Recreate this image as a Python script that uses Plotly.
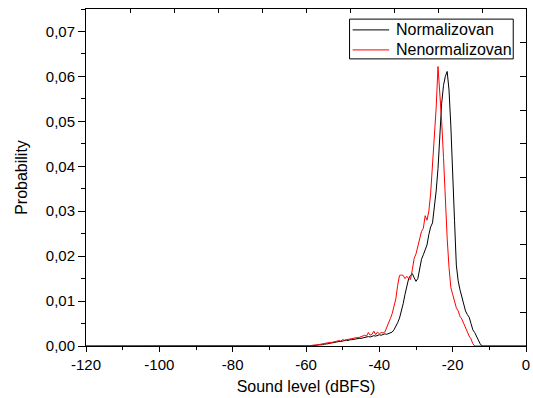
import numpy as np
import plotly.graph_objects as go

# Sound level grid (dBFS) where the histograms are non-zero, plus the flat ends
LEVEL_DBFS = [-120.0] + list(np.arange(-60.0, -11.75, 0.5)) + [0.0]

NORMALIZOVAN = [0.0,
    0.0, 0.0, 0.0, 0.0001, 0.0001, 0.0001, 0.0002, 0.0002, 0.0003, 0.0003,
    0.0004, 0.0004, 0.0005, 0.0006, 0.0007, 0.0007, 0.0008, 0.0009, 0.0010, 0.0010,
    0.0011, 0.0012, 0.0013, 0.0012, 0.0014, 0.0014, 0.0015, 0.0016, 0.0016, 0.0017,
    0.0017, 0.0018, 0.0019, 0.0019, 0.0021, 0.0020, 0.0022, 0.0023, 0.0022, 0.0024,
    0.0025, 0.0024, 0.0026, 0.0027, 0.0026, 0.0028, 0.0029, 0.0031, 0.0036, 0.0043,
    0.0052, 0.0062, 0.0076, 0.0094, 0.0115, 0.0137, 0.0150, 0.0157, 0.0161, 0.0152,
    0.0144, 0.0150, 0.0170, 0.0193, 0.0203, 0.0215, 0.0225, 0.0248, 0.0265, 0.0274,
    0.0305, 0.0345, 0.0395, 0.0470, 0.0540, 0.0580, 0.0600, 0.0611, 0.0570, 0.0490,
    0.0400, 0.0280, 0.0180, 0.0145, 0.0125, 0.0110, 0.0092, 0.0078, 0.0070, 0.0064,
    0.0050, 0.0036, 0.0030, 0.0022, 0.0012, 0.0005, 0.0,
    0.0]

NENORMALIZOVAN = [0.0,
    0.0, 0.0001, 0.0001, 0.0001, 0.0002, 0.0002, 0.0003, 0.0003, 0.0004, 0.0005,
    0.0005, 0.0006, 0.0007, 0.0008, 0.0008, 0.0009, 0.0010, 0.0010, 0.0012, 0.0011,
    0.0014, 0.0013, 0.0014, 0.0015, 0.0016, 0.0016, 0.0017, 0.0018, 0.0019, 0.0019,
    0.0021, 0.0022, 0.0024, 0.0022, 0.0030, 0.0024, 0.0026, 0.0033, 0.0025, 0.0031,
    0.0027, 0.0030, 0.0029, 0.0031, 0.0040, 0.0050, 0.0061, 0.0072, 0.0088, 0.0105,
    0.0135, 0.0157, 0.0158, 0.0157, 0.0150, 0.0155, 0.0150, 0.0148, 0.0170, 0.0195,
    0.0205, 0.0220, 0.0238, 0.0255, 0.0262, 0.0290, 0.0280, 0.0300, 0.0340, 0.0400,
    0.0470, 0.0530, 0.0622, 0.0570, 0.0500, 0.0420, 0.0320, 0.0240, 0.0175, 0.0130,
    0.0115, 0.0098, 0.0085, 0.0078, 0.0066, 0.0060, 0.0050, 0.0040, 0.0028, 0.0022,
    0.0016, 0.0005, 0.0, 0.0, 0.0, 0.0, 0.0,
    0.0]

SERIES_NAMES = ["Normalizovan", "Nenormalizovan"]
SERIES_COLORS = ["black", "red"]

X_TICKS = [-120, -100, -80, -60, -40, -20, 0]
X_TICK_LABELS = ["-120", "-100", "-80", "-60", "-40", "-20", "0"]

FONT = "Liberation Sans, Arial, sans-serif"

fig = go.Figure()
for name, color, vals in zip(SERIES_NAMES, SERIES_COLORS, [NORMALIZOVAN, NENORMALIZOVAN]):
    fig.add_trace(go.Scatter(x=LEVEL_DBFS, y=vals, mode="lines", name=name,
                             line=dict(color=color, width=1), showlegend=False))
# invisible trace to anchor the mirrored top/right axes
fig.add_trace(go.Scatter(x=[None], y=[None], xaxis="x2", yaxis="y2",
                         showlegend=False, hoverinfo="skip"))

# compact legend box (Origin style), drawn in paper coordinates
shapes = [dict(type="rect", xref="paper", yref="paper", x0=0.599, x1=0.971,
               y0=0.852, y1=0.970, line=dict(color="black", width=1),
               fillcolor="white", layer="above")]
annotations = []
for i, (name, color) in enumerate(zip(SERIES_NAMES, SERIES_COLORS)):
    yy = 0.938 - i * 0.0594
    shapes.append(dict(type="line", xref="paper", yref="paper", x0=0.606, x1=0.689,
                       y0=yy, y1=yy, line=dict(color=color, width=1), layer="above"))
    annotations.append(dict(text=name, xref="paper", yref="paper", x=0.699, y=yy,
                            xanchor="left", yanchor="middle", showarrow=False,
                            font=dict(size=16, color="black")))

fig.update_layout(
    width=533, height=398,
    margin=dict(l=86, r=3, t=9, b=52),
    paper_bgcolor="white", plot_bgcolor="white",
    separators=",.",
    font=dict(family=FONT, size=15, color="black"),
    showlegend=False,
    shapes=shapes, annotations=annotations,
    xaxis=dict(range=[-120, 0], tickvals=X_TICKS, ticktext=X_TICK_LABELS,
               ticks="outside", ticklen=5, tickwidth=1, tickcolor="black",
               ticklabeloverflow="allow",
               minor=dict(dtick=10, ticks="outside", ticklen=3, tickcolor="black"),
               showline=True, linecolor="black", linewidth=1,
               showgrid=False, zeroline=False,
               title=dict(text="Sound level (dBFS)", font=dict(size=16), standoff=8)),
    yaxis=dict(range=[0, 0.075], dtick=0.01, tick0=0, tickformat=".2f",
               ticks="outside", ticklen=7, tickwidth=1, tickcolor="black",
               minor=dict(dtick=0.005, ticks="outside", ticklen=4, tickcolor="black"),
               showline=True, linecolor="black", linewidth=1,
               showgrid=False, zeroline=False,
               title=dict(text="Probability", font=dict(size=16), standoff=14)),
    xaxis2=dict(range=[-120, 0], overlaying="x", side="top", anchor="y",
                dtick=12, tick0=-120, ticks="inside", ticklen=4, tickcolor="black",
                showticklabels=False, showline=True, linecolor="black", linewidth=1,
                showgrid=False, zeroline=False),
    yaxis2=dict(range=[0, 0.075], overlaying="y", side="right", anchor="x",
                dtick=0.0075, tick0=0, ticks="inside", ticklen=6, tickcolor="black",
                showticklabels=False, showline=True, linecolor="black", linewidth=1,
                showgrid=False, zeroline=False),
)

fig.write_html("out.html", config={"displayModeBar": False},
               post_script="document.body.style.margin='0';document.body.style.padding='0';")
